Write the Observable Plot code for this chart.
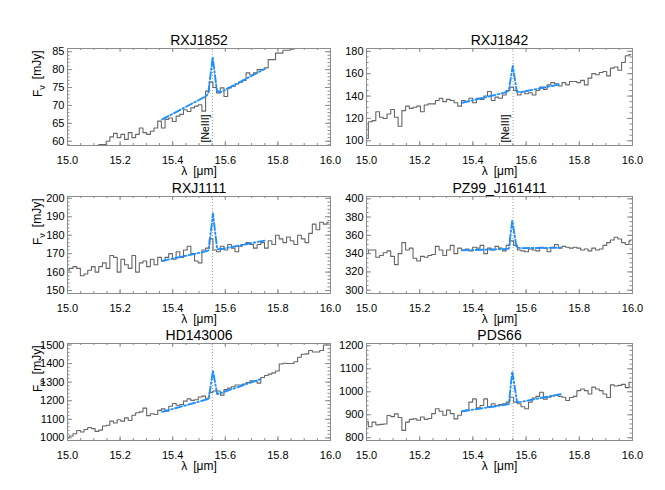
<!DOCTYPE html>
<html><head><meta charset="utf-8">
<script src="https://cdn.jsdelivr.net/npm/d3@7"></script>
<script src="https://cdn.jsdelivr.net/npm/@observablehq/plot@0.6"></script>
<style>
body{margin:0;background:#fff;}
#chart{position:relative;width:665px;height:490px;background:#fff;}
#chart svg{position:absolute;overflow:visible;}
</style></head><body><div id="chart"></div>
<script>
// ---------- data ----------
const names = ["RXJ1852", "RXJ1842", "RXJ1111", "PZ99_J161411", "HD143006", "PDS66"];
const xLabel = "λ\u2002[μm]";
const yLabel = "Fν\u2002[mJy]";
const lineLabel = "[NeIII]";
const neIII = 15.551;
const xTicks = [15.0, 15.2, 15.4, 15.6, 15.8, 16.0];

const wave = [15.000,15.014,15.028,15.042,15.056,15.070,15.084,15.098,15.112,15.126,
15.140,15.154,15.168,15.182,15.196,15.210,15.224,15.238,15.252,15.266,
15.280,15.294,15.308,15.322,15.336,15.350,15.364,15.378,15.392,15.406,
15.420,15.434,15.448,15.462,15.476,15.490,15.504,15.518,15.532,15.546,
15.560,15.574,15.588,15.602,15.616,15.630,15.644,15.658,15.672,15.686,
15.700,15.714,15.728,15.742,15.756,15.770,15.784,15.798,15.812,15.826,
15.840,15.854,15.868,15.882,15.896,15.910,15.924,15.938,15.952,15.966,
15.980,15.994];

const flux_RXJ1852 = [57.6,57.9,57.7,58.1,57.9,58.2,58.0,58.3,58.5,59.1,
59.1,60.0,61.2,62.2,61.0,61.9,60.5,62.4,61.0,61.9,
63.7,62.4,61.9,62.8,63.7,65.6,63.7,66.1,66.5,65.5,
67.0,67.5,68.8,68.3,69.3,69.8,70.2,68.4,74.0,76.5,
75.0,73.5,74.9,72.5,74.9,75.3,76.0,76.5,77.0,79.1,
78.5,79.1,80.0,80.0,80.5,82.8,82.8,84.6,84.6,85.4,
85.4,85.7,86.5,87.0,87.4,88.0,88.3,88.8,89.1,89.5,
90.0,90.3];
const flux_RXJ1842 = [102,117,118,126,121,120,124,128,121,113,
127,131,129,130,131,126,132,133,133,136,
138,135,137,136,134,131,136,135,138,134,
138,137,140,144,136,139,138,141,145,148,
145,141,144,142,143,141,145,148,146,150,
152,151,149,152,150,153,153,152,154,150,
156,160,159,161,162,158,165,166,163,170,
176,177];
const flux_RXJ1111 = [161,162,163,162,158,159,161,163,160,163,
165,162,169,168,160,167,164,162,169,160,
165,166,163,167,164,168,166,168,170,167,
171,168,172,174,170,166,165,172,173,178,
172,171,174,172,175,173,171,174,175,176,
175,173,175,176,173,177,175,180,178,176,
179,177,175,180,178,176,181,186,183,187,
186,187];
const flux_PZ99 = [340,344,344,336,338,341,343,337,328,340,
352,344,346,335,332,337,336,338,339,348,
344,338,344,349,340,346,344,345,343,347,
346,349,340,346,344,348,346,343,349,354,
349,344,343,342,345,344,343,347,346,342,
347,350,346,348,347,346,347,346,344,345,
343,346,344,345,349,352,355,358,356,352,
350,354];
const flux_HD143006 = [1003,1010,1022,1040,1032,1045,1056,1050,1035,1042,
1064,1068,1090,1080,1098,1090,1108,1094,1122,1135,
1140,1160,1120,1130,1126,1148,1156,1144,1170,1185,
1176,1180,1198,1210,1202,1205,1220,1225,1213,1245,
1252,1252,1230,1260,1268,1275,1285,1285,1290,1298,
1307,1306,1295,1325,1336,1343,1350,1360,1398,1402,
1400,1400,1410,1434,1450,1452,1470,1462,1462,1470,
1500,1510];
const flux_PDS66 = [870,848,868,856,858,860,897,892,904,888,
832,868,880,882,876,890,880,884,905,926,
915,898,920,905,882,898,915,920,955,969,
930,940,969,933,948,940,944,948,955,976,
955,948,935,926,955,973,980,998,968,976,
982,984,980,976,962,975,980,1005,1012,1005,
990,1020,1012,1005,990,975,1030,1025,1028,1032,
1018,1041];

// fitted continuum + [NeIII] line (blue dash-dot)
const fitWave_RXJ1852 = [15.36, 15.52, 15.535, 15.552, 15.568, 15.58, 15.75];
const fitFlux_RXJ1852 = [66.1, 72.3, 73.2, 83.5, 74.2, 73.6, 80.2];
const fitWave_RXJ1842 = [15.36, 15.52, 15.535, 15.55, 15.565, 15.58, 15.73];
const fitFlux_RXJ1842 = [134, 143, 145, 167, 144, 143.5, 150.6];
const fitWave_RXJ1111 = [15.36, 15.52, 15.537, 15.553, 15.569, 15.58, 15.75];
const fitFlux_RXJ1111 = [166.1, 171.0, 171.8, 191.8, 172.5, 172.4, 177.1];
const fitWave_PZ99 = [15.36, 15.52, 15.535, 15.548, 15.564, 15.58, 15.736];
const fitFlux_PZ99 = [343.6, 345.0, 345.5, 376.3, 347.0, 346.0, 346.5];
const fitWave_HD143006 = [15.36, 15.52, 15.537, 15.553, 15.569, 15.58, 15.734];
const fitFlux_HD143006 = [1140, 1203, 1210, 1361, 1236, 1240, 1316];
const fitWave_PDS66 = [15.36, 15.52, 15.535, 15.548, 15.566, 15.58, 15.736];
const fitFlux_PDS66 = [915, 943, 947, 1089, 955, 956, 991];

// y axes
const yDomain_RXJ1852 = [58.8, 85.9];   const yTicks_RXJ1852 = [60, 65, 70, 75, 80, 85];        const yMinorStep_RXJ1852 = 1;
const yDomain_RXJ1842 = [95.8, 182.5];  const yTicks_RXJ1842 = [100, 120, 140, 160, 180];       const yMinorStep_RXJ1842 = 5;
const yDomain_RXJ1111 = [148.4, 201];   const yTicks_RXJ1111 = [150, 160, 170, 180, 190, 200];  const yMinorStep_RXJ1111 = 2;
const yDomain_PZ99 = [296.4, 402.5];    const yTicks_PZ99 = [300, 320, 340, 360, 380, 400];     const yMinorStep_PZ99 = 5;
const yDomain_HD143006 = [986, 1508];   const yTicks_HD143006 = [1000, 1100, 1200, 1300, 1400, 1500]; const yMinorStep_HD143006 = 20;
const yDomain_PDS66 = [788, 1210];      const yTicks_PDS66 = [800, 900, 1000, 1100, 1200];      const yMinorStep_PDS66 = 20;

// ---------- layout ----------
const panels = [
  {name: names[0], flux: flux_RXJ1852, fw: fitWave_RXJ1852, ff: fitFlux_RXJ1852, yd: yDomain_RXJ1852, yt: yTicks_RXJ1852, ym: yMinorStep_RXJ1852, col: 0, row: 0},
  {name: names[1], flux: flux_RXJ1842, fw: fitWave_RXJ1842, ff: fitFlux_RXJ1842, yd: yDomain_RXJ1842, yt: yTicks_RXJ1842, ym: yMinorStep_RXJ1842, col: 1, row: 0},
  {name: names[2], flux: flux_RXJ1111, fw: fitWave_RXJ1111, ff: fitFlux_RXJ1111, yd: yDomain_RXJ1111, yt: yTicks_RXJ1111, ym: yMinorStep_RXJ1111, col: 0, row: 1},
  {name: names[3], flux: flux_PZ99, fw: fitWave_PZ99, ff: fitFlux_PZ99, yd: yDomain_PZ99, yt: yTicks_PZ99, ym: yMinorStep_PZ99, col: 1, row: 1},
  {name: names[4], flux: flux_HD143006, fw: fitWave_HD143006, ff: fitFlux_HD143006, yd: yDomain_HD143006, yt: yTicks_HD143006, ym: yMinorStep_HD143006, col: 0, row: 2},
  {name: names[5], flux: flux_PDS66, fw: fitWave_PDS66, ff: fitFlux_PDS66, yd: yDomain_PDS66, yt: yTicks_PDS66, ym: yMinorStep_PDS66, col: 1, row: 2}
];

const colLeft = [0, 335], colWidth = [335, 300], colML = [67, 31], colMR = [5, 3];
const rowTop = [48, 196, 343];
const FH = 97, MT = 30, MB = 34;
const tickColor = "#8c8c8c";
const font = "'Liberation Sans', Arial, Helvetica, sans-serif";

const chart = document.getElementById("chart");

for (const p of panels) {
  const width = colWidth[p.col], ml = colML[p.col], mr = colMR[p.col];
  const FW = width - ml - mr;
  const spec = wave.map((w, i) => ({w, f: p.flux[i]}));
  const fit = p.fw.map((w, i) => ({w, f: p.ff[i]}));
  const xMinor = d3.range(15, 16.0001, 0.05);
  const yMinor = d3.range(Math.ceil(p.yd[0] / p.ym) * p.ym, p.yd[1], p.ym);

  const marks = [
    Plot.ruleX([neIII], {x: d => d, stroke: "#9a9a9a", strokeWidth: 1, strokeDasharray: "1,2"}),
    Plot.line(spec, {x: "w", y: "f", curve: "step", stroke: "#666", strokeWidth: 1.1, clip: true}),
    Plot.line(fit, {x: "w", y: "f", stroke: "#1e8fff", strokeWidth: 1.9, strokeDasharray: "7,2.5,1.5,2.5"}),
    // inward ticks, all four sides
    Plot.ruleX(xTicks, {x: d => d, insetTop: FH - 4, stroke: tickColor}),
    Plot.ruleX(xTicks, {x: d => d, insetBottom: FH - 4, stroke: tickColor}),
    Plot.ruleX(xMinor, {x: d => d, insetTop: FH - 2, stroke: tickColor}),
    Plot.ruleX(xMinor, {x: d => d, insetBottom: FH - 2, stroke: tickColor}),
    Plot.ruleY(p.yt, {y: d => d, insetRight: FW - 5, stroke: tickColor}),
    Plot.ruleY(p.yt, {y: d => d, insetLeft: FW - 5, stroke: tickColor}),
    Plot.ruleY(yMinor, {y: d => d, insetRight: FW - 2.5, stroke: tickColor}),
    Plot.ruleY(yMinor, {y: d => d, insetLeft: FW - 2.5, stroke: tickColor}),
    Plot.frame({stroke: tickColor, strokeWidth: 1}),
    Plot.axisX({ticks: xTicks, tickSize: 0, tickPadding: 11, tickFormat: d3.format(".1f"), fontSize: 11, label: null}),
    Plot.axisY({ticks: p.yt, tickSize: 0, tickPadding: 3, tickFormat: d => String(d), fontSize: 11, label: null}),
    Plot.text([p.name], {text: d => d, frameAnchor: "top", lineAnchor: "bottom", dy: -4, fontSize: 14}),
    Plot.text([xLabel], {text: d => d, frameAnchor: "bottom", lineAnchor: "middle", dy: 26, fontSize: 12})
  ];
  if (p.col === 0) marks.push(Plot.text([yLabel], {text: d => d, frameAnchor: "left", lineAnchor: "middle", dx: -29, rotate: -90, fontSize: 12}));
  if (p.row === 0) marks.push(Plot.text([neIII], {x: d => d, text: () => lineLabel, frameAnchor: "bottom", lineAnchor: "middle", dx: -7, dy: -3, rotate: -90, textAnchor: "start", fontSize: 10.5}));

  const svg = Plot.plot({
    width, height: MT + FH + MB,
    marginLeft: ml, marginRight: mr, marginTop: MT, marginBottom: MB,
    x: {domain: [15, 16]},
    y: {domain: p.yd},
    style: {fontFamily: font, background: "transparent", color: "#000", overflow: "visible"},
    marks
  });
  svg.style.left = colLeft[p.col] + "px";
  svg.style.top = (rowTop[p.row] - MT) + "px";
  // subscript ν in F_ν
  d3.select(svg).selectAll("text").each(function() {
    if (this.textContent === yLabel) {
      this.textContent = "";
      const t = d3.select(this);
      t.append("tspan").text("F");
      t.append("tspan").attr("dy", "0.3em").attr("font-size", "9px").text("ν");
      t.append("tspan").attr("dy", "-0.3em").text("\u2002[mJy]");
    }
  });
  chart.appendChild(svg);
}
</script></body></html>
